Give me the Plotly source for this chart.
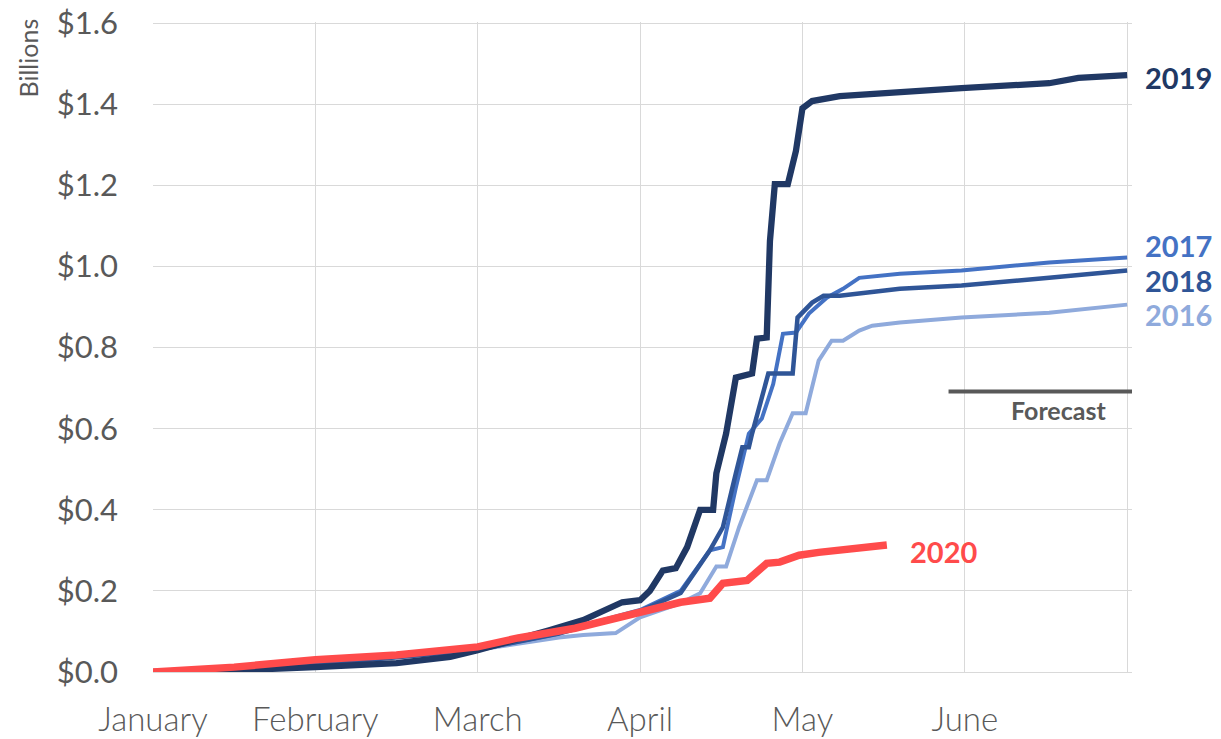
import plotly.graph_objects as go

# x positions are in months since January 1 (0 = Jan, 6 = end of June)
months = ["January", "February", "March", "April", "May", "June", ""]
month_pos = [0, 1, 2, 3, 4, 5, 6]
y_ticks = [0, 0.2, 0.4, 0.6, 0.8, 1.0, 1.2, 1.4, 1.6]
y_tick_text = ["$0.0", "$0.2", "$0.4", "$0.6", "$0.8", "$1.0", "$1.2", "$1.4", "$1.6"]

x_2016 = [0, 1, 2, 2.5, 2.65, 2.85, 3.0, 3.25, 3.37, 3.47, 3.53, 3.61, 3.72, 3.78, 3.86,
          3.94, 4.02, 4.1, 4.18, 4.25, 4.35, 4.43, 4.6, 4.98, 5.52, 6]
y_2016 = [0, 0.018, 0.055, 0.085, 0.091, 0.096, 0.135, 0.17, 0.194, 0.26, 0.26, 0.357, 0.473,
          0.473, 0.564, 0.638, 0.638, 0.768, 0.817, 0.817, 0.842, 0.854, 0.862, 0.874, 0.886, 0.906]

x_2017 = [0, 1, 2, 2.5, 2.65, 3.0, 3.25, 3.43, 3.51, 3.59, 3.67, 3.75, 3.82, 3.88, 3.96,
          4.04, 4.15, 4.25, 4.35, 4.6, 4.98, 5.52, 6]
y_2017 = [0, 0.02, 0.055, 0.095, 0.115, 0.153, 0.2, 0.3, 0.308, 0.455, 0.588, 0.625, 0.71,
          0.834, 0.837, 0.884, 0.923, 0.945, 0.972, 0.982, 0.99, 1.01, 1.022]

x_2018 = [0, 1, 2, 2.5, 3.0, 3.25, 3.43, 3.51, 3.59, 3.63, 3.67, 3.69, 3.79, 3.94, 3.97,
          4.06, 4.13, 4.23, 4.6, 4.98, 5.52, 6]
y_2018 = [0, 0.018, 0.055, 0.095, 0.15, 0.195, 0.3, 0.357, 0.49, 0.554, 0.554, 0.588, 0.736,
          0.736, 0.874, 0.911, 0.928, 0.928, 0.945, 0.953, 0.972, 0.99]

x_2019 = [0, 0.5, 1.0, 1.5, 1.83, 2.0, 2.44, 2.65, 2.89, 3.0, 3.06, 3.14, 3.22, 3.29, 3.37,
          3.45, 3.47, 3.53, 3.59, 3.69, 3.72, 3.78, 3.80, 3.83, 3.91, 3.96, 4.0, 4.06, 4.23,
          4.6, 4.98, 5.52, 5.70, 6.0]
y_2019 = [0, 0.004, 0.012, 0.022, 0.037, 0.054, 0.103, 0.128, 0.172, 0.177, 0.2, 0.25, 0.256,
          0.308, 0.4, 0.4, 0.49, 0.588, 0.726, 0.736, 0.822, 0.825, 1.063, 1.203, 1.203, 1.285,
          1.39, 1.408, 1.42, 1.428, 1.44, 1.452, 1.465, 1.472]

x_2020 = [0, 0.5, 1.0, 1.5, 2.0, 2.25, 2.6, 3.0, 3.25, 3.43, 3.51, 3.66, 3.78, 3.86, 3.98,
          4.1, 4.29, 4.52]
y_2020 = [0, 0.012, 0.03, 0.042, 0.062, 0.084, 0.108, 0.145, 0.172, 0.182, 0.219, 0.226,
          0.268, 0.271, 0.288, 0.295, 0.303, 0.313]

forecast_start, forecast_end, forecast_level = 4.9, 6.03, 0.692

colors = {"2016": "#8FAADC", "2017": "#4472C4", "2018": "#2F5597",
          "2019": "#203864", "2020": "#FF4B4B"}
grey = "#595959"
font = "Lato, 'Open Sans', sans-serif"

fig = go.Figure()
series = [("2016", x_2016, y_2016, 4), ("2017", x_2017, y_2017, 4),
          ("2018", x_2018, y_2018, 4.5), ("2019", x_2019, y_2019, 6.3),
          ("2020", x_2020, y_2020, 7.5)]
for name, xs, ys, w in series:
    fig.add_trace(go.Scatter(x=xs, y=ys, mode="lines", name=name,
                             line=dict(color=colors[name], width=w), showlegend=False))

# line labels on the right
labels = [("2019", 6, 1.466), ("2017", 6, 1.051), ("2018", 6, 0.966), ("2016", 6, 0.882),
          ("2020", 4.65, 0.296)]
for name, lx, ly in labels:
    fig.add_annotation(x=lx, y=ly, text="<b>%s</b>" % name, showarrow=False,
                       xanchor="left", yanchor="middle", xshift=16 if lx == 6 else 0,
                       font=dict(family=font, size=29, color=colors[name]))

# forecast marker
fig.add_shape(type="line", x0=forecast_start, x1=forecast_end, y0=forecast_level,
              y1=forecast_level, line=dict(color=grey, width=4))
fig.add_annotation(x=5.88, y=0.646, text="<b>Forecast</b>", showarrow=False,
                   xanchor="right", yanchor="middle",
                   font=dict(family=font, size=25, color=grey))

fig.add_annotation(xref="paper", yref="paper", x=-0.128, y=0.945, text="Billions",
                   textangle=-90, showarrow=False, xanchor="center", yanchor="middle",
                   font=dict(family=font, size=25, color=grey))

fig.update_xaxes(range=[0, 6.03], tickvals=month_pos, ticktext=months,
                 showgrid=True, gridcolor="#D9D9D9", gridwidth=1.3,
                 showline=True, linecolor="#D9D9D9", linewidth=1.3, zeroline=False,
                 ticklabelstandoff=18, automargin=False,
                 tickfont=dict(family=font, size=33, color=grey, weight=300))
fig.update_yaxes(range=[0, 1.603], tickvals=y_ticks, ticktext=y_tick_text,
                 showgrid=True, gridcolor="#D9D9D9", gridwidth=1.3, zeroline=False,
                 ticklabelstandoff=34, automargin=False,
                 tickfont=dict(family=font, size=31, color=grey))

fig.update_layout(width=1221, height=739, plot_bgcolor="white", paper_bgcolor="white",
                  margin=dict(l=153, r=89, t=22, b=67))

# drop the default 8px body margin so the figure fills the window exactly
fig.write_html("out.html", config={"displayModeBar": False},
               post_script="document.body.style.margin='0';document.body.style.overflow='hidden';")
